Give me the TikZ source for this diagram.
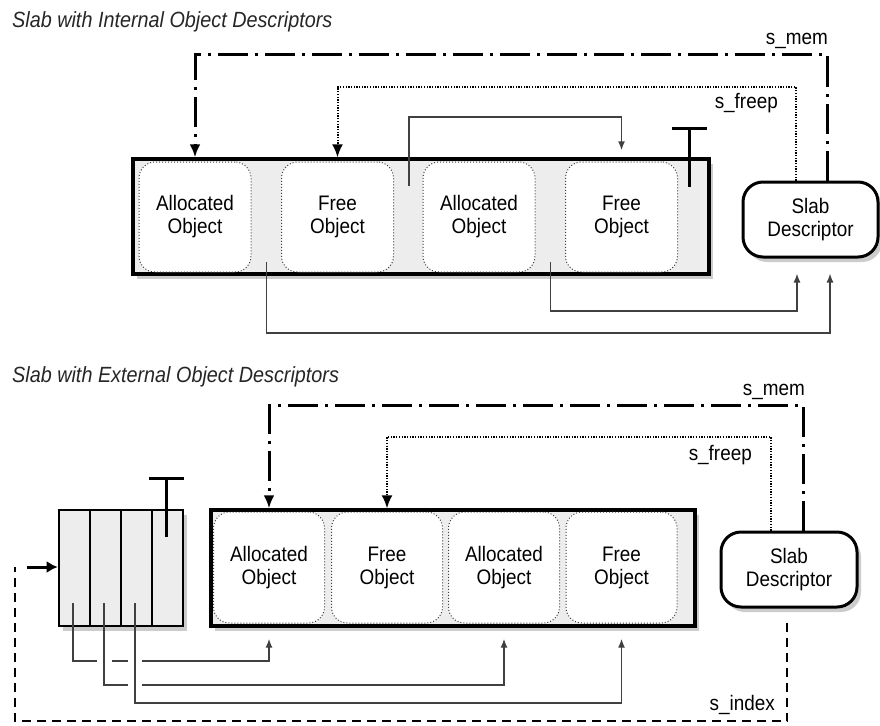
\documentclass[tikz,border=0pt]{standalone}
\usepackage{fontspec}
\setmainfont{Liberation Sans}[FakeStretch=0.9]
\usetikzlibrary{arrows.meta,shadows}
\begin{document}
\begin{tikzpicture}[x=1pt,y=-1pt,
  lbl/.style={font=\fontsize{21}{23}\selectfont, inner sep=0pt, anchor=base east},
  ttl/.style={font=\fontsize{22}{24}\selectfont\itshape, inner sep=0pt, anchor=base west, text=black!85},
  shad/.style={drop shadow={shadow xshift=4pt,shadow yshift=-5pt,opacity=0.2,fill=black}},
  slabbox/.style={draw, line width=3.4pt, fill=black!7, shad, inner sep=0pt},
  objbox/.style={draw=black!75, dotted, line width=1pt, rounded corners=16pt, fill=white, align=center, inner sep=0pt, font=\fontsize{21}{23}\selectfont},
  descbox/.style={draw, line width=3pt, rounded corners=20pt, fill=white, align=center, inner sep=0pt, font=\fontsize{21}{23}\selectfont, shad},
  cellbox/.style={draw, line width=2.6pt, fill=black!7, minimum width=31pt, minimum height=116pt, inner sep=0pt},
  memline/.style={line width=3pt, dash pattern=on 30pt off 7pt on 3pt off 7pt, -{Latex[length=13pt,width=11pt]}},
  freeline/.style={line width=2pt, dash pattern=on 1.3pt off 1.4pt, -{Latex[length=13pt,width=11pt]}},
  idxline/.style={line width=2.8pt, dash pattern=on 9pt off 6pt},
  conn/.style={line width=1.4pt, draw=black!75, -{Latex[length=9pt,width=7pt]}},
  tbar/.style={line width=3pt}
]
\useasboundingbox (0,0) rectangle (880,725);

% ================= TOP: internal descriptors =================
\node[ttl] (t1) at (12,28) {Slab with Internal Object Descriptors};

\node[slabbox, minimum width=576pt, minimum height=115pt] (slabA) at (421,216.5) {};
\node[objbox, minimum width=112pt, minimum height=110pt] (a1) at (195,217) {Allocated\\Object};
\node[objbox, minimum width=112pt, minimum height=110pt] (a2) at (337.5,217) {Free\\Object};
\node[objbox, minimum width=112pt, minimum height=110pt] (a3) at (479,217) {Allocated\\Object};
\node[objbox, minimum width=112pt, minimum height=110pt] (a4) at (621.5,217) {Free\\Object};
\node[descbox, minimum width=135pt, minimum height=75pt] (descA) at (810.5,219.5) {Slab\\Descriptor};

% s_mem
\coordinate (mA) at (827,55);
\draw[memline] (descA.north -| mA) -- (mA) -- (mA -| a1) -- (a1 |- slabA.north);
\node[lbl] (lmA) at (828,45) {s\_mem};
% s_freep
\coordinate (fA) at (796,87);
\draw[freeline] (descA.north -| fA) -- (fA) -- (fA -| a2) -- (a2 |- slabA.north);
\node[lbl] (lfA) at (778,108) {s\_freep};

% free list link inside slab
\coordinate (sA) at (409,186);
\coordinate (sAt) at (409,117);
\draw[conn] (sA) -- (sAt) -- (sAt -| a4) -- ([yshift=7pt]a4 |- slabA.north);

% terminator
\draw[tbar] (689,187) -- (689,128);
\draw[tbar] (672,128) -- (707,128);

% links to descriptor
\coordinate (uA1) at (266.5,262);
\coordinate (uA1b) at (266.5,333);
\coordinate (xA1) at (830,0);
\draw[conn] (uA1) -- (uA1b) -- (uA1b -| xA1) -- ([yshift=-15pt]descA.south -| xA1);
\coordinate (uA2) at (550.5,262);
\coordinate (uA2b) at (550.5,311);
\coordinate (xA2) at (797,0);
\draw[conn] (uA2) -- (uA2b) -- (uA2b -| xA2) -- ([yshift=-15pt]descA.south -| xA2);

% ================= BOTTOM: external descriptors =================
\node[ttl] (t2) at (12,382) {Slab with External Object Descriptors};

\node[slabbox, minimum width=484pt, minimum height=116pt] (slabB) at (453,568) {};
\node[objbox, minimum width=111pt, minimum height=111pt] (b1) at (269,567.5) {Allocated\\Object};
\node[objbox, minimum width=111pt, minimum height=111pt] (b2) at (387,567.5) {Free\\Object};
\node[objbox, minimum width=111pt, minimum height=111pt] (b3) at (504,567.5) {Allocated\\Object};
\node[objbox, minimum width=111pt, minimum height=111pt] (b4) at (621.5,567.5) {Free\\Object};
\node[descbox, minimum width=136pt, minimum height=75pt] (descB) at (789,569.5) {Slab\\Descriptor};

% index array
\node[draw, line width=2.6pt, fill=black!7, shad, minimum width=124pt, minimum height=116pt, inner sep=0pt] (arr) at (121,568) {};
\node[cellbox] (c1) at (74.5,568) {};
\node[cellbox] (c2) at (105.5,568) {};
\node[cellbox] (c3) at (136.5,568) {};
\node[cellbox] (c4) at (167.5,568) {};
\draw[tbar] (166,537) -- (166,478);
\draw[tbar] (149,478) -- (184,478);

% s_mem
\coordinate (mB) at (803,405);
\draw[memline] (descB.north -| mB) -- (mB) -- (mB -| b1) -- (b1 |- slabB.north);
\node[lbl] (lmB) at (805,395) {s\_mem};
% s_freep
\coordinate (fB) at (771,437);
\draw[freeline] (descB.north -| fB) -- (fB) -- (fB -| b2) -- (b2 |- slabB.north);
\node[lbl] (lfB) at (752,460) {s\_freep};

% index links
\coordinate (k1) at (73,603);
\coordinate (k1b) at (73,661);
\coordinate (k2) at (104,603);
\coordinate (k2b) at (104,685);
\coordinate (k3) at (135,603);
\coordinate (k3b) at (135,703);
\draw[conn] (k1) -- (k1b) -- (k1b -| b1) -- ([yshift=-11pt]b1 |- slabB.south);
\fill[white] (97,657) rectangle (112,665);
\fill[white] (128,657) rectangle (142,665);
\draw[conn] (k2) -- (k2b) -- (k2b -| b3) -- ([yshift=-11pt]b3 |- slabB.south);
\fill[white] (128,681) rectangle (142,689);
\draw[conn] (k3) -- (k3b) -- (k3b -| b4) -- ([yshift=-11pt]b4 |- slabB.south);

% s_index
\coordinate (i1) at (787,721);
\coordinate (i2) at (15,721);
\coordinate (i3) at (15,567);
\draw[idxline] ([yshift=-14pt]descB.south -| i1) -- (i1) -- (i2) -- (i3);
\node[lbl] (liB) at (775,710) {s\_index};
\coordinate (ar) at (27,567);
\draw[line width=3pt, -{Latex[length=11pt,width=12pt]}] (ar) -- (arr.west |- ar);

\end{tikzpicture}
\end{document}
